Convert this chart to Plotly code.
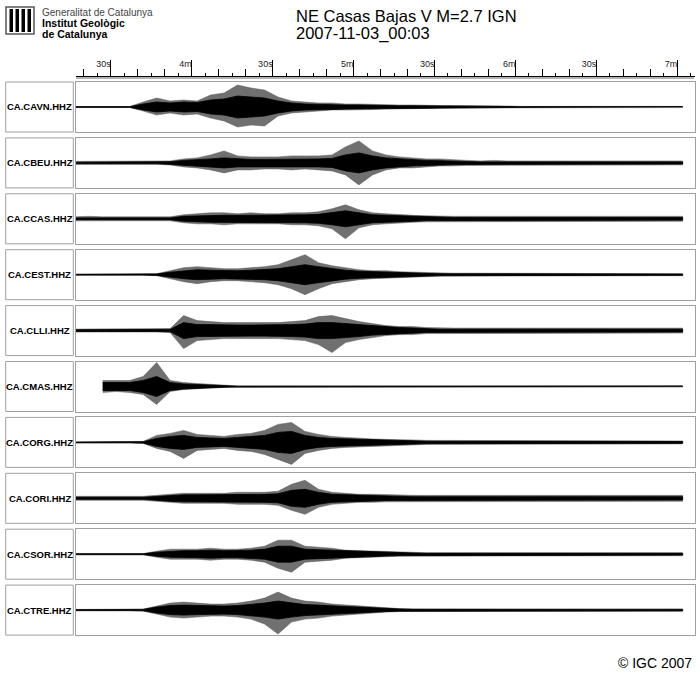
import plotly.graph_objects as go

W, H = 700, 683


def fx(px):
    return px / W


def fy(py):
    return 1 - py / H


# ---------------- data ----------------
TIMES = [197, 202, 207, 212, 217, 222, 227, 232, 237, 242,
         247, 252, 257, 262, 267, 272, 277, 282, 287, 292,
         297, 302, 307, 312, 317, 322, 327, 332, 337, 342,
         347, 352, 357, 362, 367, 372, 377, 382, 387, 392,
         397, 402, 407, 412, 417, 422]

STATIONS = ["CA.CAVN.HHZ", "CA.CBEU.HHZ", "CA.CCAS.HHZ", "CA.CEST.HHZ", "CA.CLLI.HHZ",
            "CA.CMAS.HHZ", "CA.CORG.HHZ", "CA.CORI.HHZ", "CA.CSOR.HHZ", "CA.CTRE.HHZ"]

# peak envelopes (upper / lower) and dense-core half widths, per station
CAVN_UP = [0.5, 0.5, 0.5, 0.5, 0.5, 5, 9, 6, 7, 6,
           12, 14, 22, 19, 17, 10, 6, 5, 4, 4,
           3, 3, 2.5, 2.5, 2, 2, 1.5, 1.5, 1.5, 1.5,
           1, 1, 1, 0.6, 0.6, 0.6, 0.6, 1.2, 0.6, 0.6,
           0.6, 0.6, 0.6, 1.0, 0.6, 0.6]
CAVN_DN = [0.5, 0.5, 0.5, 0.5, 0.5, 4, 8, 6, 8, 7,
           11, 14, 20, 18, 19, 9, 6, 5, 4, 3,
           3, 3, 2.5, 2, 2, 1.5, 1.5, 1, 1, 1,
           1, 1, 1, 0.6, 0.6, 0.6, 0.6, 0.6, 0.6, 0.6,
           0.6, 0.6, 0.6, 0.6, 0.6, 0.6]
CAVN_CORE = [0.35, 0.35, 0.35, 0.35, 0.35, 3, 5, 4, 5, 4.5,
             7, 8, 11, 10, 9, 6, 4, 3, 2.5, 2.5,
             2, 2, 1.5, 1.5, 1.2, 1.2, 1, 1, 0.8, 0.8,
             0.6, 0.6, 0.5, 0.35, 0.35, 0.35, 0.35, 0.35, 0.35, 0.35,
             0.35, 0.35, 0.35, 0.35, 0.35, 0.35]

CBEU_UP = [1.5, 1.5, 2, 1.5, 1.5, 2, 1.5, 2, 4, 5,
           8, 12, 7, 6, 6, 6, 7, 7, 7, 8,
           16, 22, 12, 8, 6, 5, 4, 4, 3, 2.5,
           2, 2.5, 2, 2, 2.5, 2, 2, 2.5, 2, 2,
           2.5, 2, 2, 2.5, 2.5, 2]
CBEU_DN = [1.5, 1.5, 1.5, 2, 1.5, 1.5, 1.5, 2, 4, 5,
           7, 10, 7, 7, 6, 6, 7, 6, 7, 8,
           12, 22, 12, 7, 5, 5, 4, 3, 3, 2.5,
           2, 2, 2.5, 2, 2, 2, 2.5, 2, 2, 2,
           2, 2.5, 2, 2, 2, 2]
CBEU_CORE = [0.7, 0.7, 0.7, 0.7, 0.7, 0.7, 0.7, 1.2, 2.5, 3,
             4, 5, 4, 3.5, 3.5, 3.5, 4, 4, 4, 4.5,
             8, 10, 7, 5, 4, 3, 2.5, 2.2, 1.6, 1.3,
             1, 1, 1, 1, 1, 1, 1, 1, 1, 1,
             1, 1, 1, 1, 1, 1]

CCAS_UP = [2, 2.5, 2, 2, 2.5, 2, 2, 2, 4, 5,
           6, 6, 5, 6, 5, 5, 6, 6, 7, 10,
           14, 9, 6, 5, 4, 3.5, 3, 2.5, 2.5, 2.5,
           2.5, 2.5, 3, 2.5, 2.5, 2.5, 3, 2.5, 2.5, 2.5,
           2.5, 3, 2.5, 2.5, 3, 2.5]
CCAS_DN = [2, 2, 2, 2.5, 2, 2, 2, 2, 4, 5,
           5, 6, 5, 5, 5, 5, 6, 6, 7, 10,
           20, 9, 6, 5, 4, 3.5, 3, 2.5, 2.5, 2.5,
           2.5, 2.5, 2.5, 2.5, 3, 2.5, 2.5, 2.5, 2.5, 3,
           2.5, 2.5, 2.5, 2.5, 2.5, 2.5]
CCAS_CORE = [0.9, 0.9, 0.9, 0.9, 0.9, 0.9, 0.9, 0.9, 2.5, 3,
             3.5, 3.5, 3.5, 3.5, 3.5, 3.5, 4, 4, 4.5, 6,
             8, 6, 4, 3.5, 3, 2.5, 1.8, 1.3, 1.3, 1.3,
             1.3, 1.3, 1.3, 1.3, 1.3, 1.3, 1.3, 1.3, 1.3, 1.3,
             1.3, 1.3, 1.3, 1.3, 1.3, 1.3]

CEST_UP = [0.5, 0.5, 0.5, 0.5, 0.5, 0.5, 1, 4, 7, 8,
           7, 6, 6, 7, 8, 10, 15, 20, 12, 9,
           7, 5, 4, 4, 3, 2.5, 2, 1.5, 1.5, 1.5,
           1.5, 1.5, 1.5, 1, 1, 1, 1, 1, 1, 1,
           1, 1, 1, 1, 1, 1]
CEST_DN = [0.5, 0.5, 0.5, 0.5, 0.5, 0.5, 1, 4, 7, 9,
           7, 6, 6, 7, 8, 10, 14, 20, 14, 9,
           7, 5, 4, 3, 3, 2.5, 2, 1.5, 1.5, 1.5,
           1.5, 1.5, 1.5, 1, 1, 1, 1, 1, 1, 1,
           1, 1, 1, 1, 1, 1]
CEST_CORE = [0.35, 0.35, 0.35, 0.35, 0.35, 0.35, 0.7, 2.5, 4, 5,
             4.5, 4, 4, 4.5, 5, 6, 8, 10, 8, 6,
             4.5, 3.5, 3, 2.5, 2, 1.8, 1.4, 0.9, 0.9, 0.9,
             0.9, 0.9, 0.9, 0.6, 0.6, 0.6, 0.6, 0.6, 0.6, 0.6,
             0.6, 0.6, 0.6, 0.6, 0.6, 0.6]

CLLI_UP = [1.5, 1.5, 1.5, 1.5, 1.5, 1.5, 1.5, 2, 15, 10,
           9, 8, 8, 8, 8, 8, 9, 10, 14, 15,
           12, 9, 7, 5, 4, 4, 3, 2.5, 2.5, 2.5,
           2.5, 2.5, 2.5, 2.5, 2.5, 2.5, 2.5, 2.5, 2.5, 2.5,
           2.5, 2.5, 2.5, 2.5, 2.5, 2.5]
CLLI_DN = [1.5, 1.5, 1.5, 1.5, 1.5, 1.5, 1.5, 2, 18, 10,
           9, 8, 8, 8, 8, 8, 9, 10, 14, 22,
           12, 9, 7, 5, 4, 4, 3, 2.5, 2.5, 2.5,
           2.5, 2.5, 2.5, 2.5, 2.5, 2.5, 2.5, 2.5, 2.5, 2.5,
           2.5, 2.5, 2.5, 2.5, 2.5, 2.5]
CLLI_CORE = [0.8, 0.8, 0.8, 0.8, 0.8, 0.8, 0.8, 1.2, 8, 6,
             6, 5.5, 5.5, 5.5, 5.5, 5.5, 6, 6.5, 8, 8,
             7, 6, 4.5, 3.5, 3, 2.6, 1.8, 1.3, 1.3, 1.3,
             1.3, 1.3, 1.3, 1.3, 1.3, 1.3, 1.3, 1.3, 1.3, 1.3,
             1.3, 1.3, 1.3, 1.3, 1.3, 1.3]

CMAS_UP = [None, None, 6, 6, 6, 10, 24, 6, 4, 3,
           2, 1, 0.6, 0.6, 0.6, 0.6, 0.6, 0.6, 0.6, 0.6,
           0.6, 0.6, 0.6, 0.6, 0.6, 0.6, 0.6, 0.6, 0.6, 0.6,
           0.6, 0.6, 0.6, 0.6, 0.6, 0.6, 0.6, 0.6, 0.6, 0.6,
           0.6, 0.6, 0.6, 0.6, 0.6, 0.6]
CMAS_DN = [None, None, 6, 5, 6, 8, 18, 5, 3, 2,
           1.5, 1, 0.6, 0.6, 0.6, 0.6, 0.6, 0.6, 0.6, 0.6,
           0.6, 0.6, 0.6, 0.6, 0.6, 0.6, 0.6, 0.6, 0.6, 0.6,
           0.6, 0.6, 0.6, 0.6, 0.6, 0.6, 0.6, 0.6, 0.6, 0.6,
           0.6, 0.6, 0.6, 0.6, 0.6, 0.6]
CMAS_CORE = [None, None, 4, 4, 4, 6, 10, 4, 2.5, 2,
             1.2, 0.7, 0.35, 0.35, 0.35, 0.35, 0.35, 0.35, 0.35, 0.35,
             0.35, 0.35, 0.35, 0.35, 0.35, 0.35, 0.35, 0.35, 0.35, 0.35,
             0.35, 0.35, 0.35, 0.35, 0.35, 0.35, 0.35, 0.35, 0.35, 0.35,
             0.35, 0.35, 0.35, 0.35, 0.35, 0.35]

CORG_UP = [0.5, 0.5, 0.5, 0.5, 0.5, 1, 7, 9, 12, 8,
           7, 6, 8, 9, 12, 18, 20, 11, 8, 6,
           5, 4, 3.5, 3, 3, 2.5, 2, 2, 2, 2,
           2, 2, 2, 2, 1.5, 1.5, 1.5, 1.5, 1.5, 1.5,
           1.5, 1.5, 1.5, 1.5, 1.5, 1.5]
CORG_DN = [0.5, 0.5, 0.5, 0.5, 0.5, 1, 6, 9, 16, 8,
           7, 6, 8, 9, 12, 17, 22, 11, 8, 6,
           5, 4, 3.5, 3, 3, 2.5, 2, 2, 2, 2,
           2, 2, 2, 2, 1.5, 1.5, 1.5, 1.5, 1.5, 1.5,
           1.5, 1.5, 1.5, 1.5, 1.5, 1.5]
CORG_CORE = [0.35, 0.35, 0.35, 0.35, 0.35, 0.7, 4, 6, 7, 5,
             4.5, 4, 5, 6, 7, 10, 11, 7, 5, 4,
             3.5, 3, 2.5, 2.2, 2, 1.7, 1.2, 1.1, 1.1, 1.1,
             1.1, 1.1, 1.1, 1.1, 0.9, 0.9, 0.9, 0.9, 0.9, 0.9,
             0.9, 0.9, 0.9, 0.9, 0.9, 0.9]

CORI_UP = [2, 2, 2, 2, 2, 2, 3, 4, 5, 5,
           5, 5, 6, 6, 6, 7, 14, 18, 9, 6,
           5, 4, 4, 3.5, 3, 3, 3, 3, 3, 3,
           3, 3, 3, 3, 3, 3, 3, 3, 3, 3,
           3, 3, 3, 3, 3, 3]
CORI_DN = [2, 2, 2, 2, 2, 2, 3, 4, 5, 5,
           5, 5, 6, 6, 6, 7, 12, 16, 9, 6,
           5, 4, 4, 3.5, 3, 3, 3, 3, 3, 3,
           3, 3, 3, 3, 3, 3, 3, 3, 3, 3,
           3, 3, 3, 3, 3, 3]
CORI_CORE = [1.0, 1.0, 1.0, 1.0, 1.0, 1.0, 1.8, 3, 3.5, 3.5,
             3.5, 3.5, 4, 4, 4, 4.5, 8, 9, 6, 4,
             3.5, 3, 2.8, 2.2, 1.8, 1.6, 1.6, 1.6, 1.6, 1.6,
             1.6, 1.6, 1.6, 1.6, 1.6, 1.6, 1.6, 1.6, 1.6, 1.6,
             1.6, 1.6, 1.6, 1.6, 1.6, 1.6]

CSOR_UP = [0.6, 0.6, 0.6, 0.6, 0.6, 0.6, 3, 5, 5, 5,
           6, 5, 5, 6, 8, 14, 14, 8, 7, 6,
           4, 3.5, 3, 2.5, 2, 2, 1.5, 1.5, 1.5, 1.5,
           1.5, 1.5, 1.5, 1.5, 1.5, 1.5, 1.5, 1.5, 1.5, 1.5,
           1.5, 1.5, 1.5, 1.5, 1.5, 1.5]
CSOR_DN = [0.6, 0.6, 0.6, 0.6, 0.6, 0.6, 3, 5, 5, 5,
           6, 5, 5, 6, 8, 14, 18, 8, 7, 6,
           4, 3.5, 3, 2.5, 2, 2, 1.5, 1.5, 1.5, 1.5,
           1.5, 1.5, 1.5, 1.5, 1.5, 1.5, 1.5, 1.5, 1.5, 1.5,
           1.5, 1.5, 1.5, 1.5, 1.5, 1.5]
CSOR_CORE = [0.4, 0.4, 0.4, 0.4, 0.4, 0.4, 2, 3, 3.5, 3.5,
             4, 3.5, 3.5, 4, 5, 8, 8, 5, 4.5, 4,
             3, 2.5, 2.2, 1.8, 1.4, 1.2, 0.9, 0.9, 0.9, 0.9,
             0.9, 0.9, 0.9, 0.9, 0.9, 0.9, 0.9, 0.9, 0.9, 0.9,
             0.9, 0.9, 0.9, 0.9, 0.9, 0.9]

CTRE_UP = [0.7, 0.7, 0.7, 0.7, 0.7, 1, 4, 7, 8, 7,
           6, 6, 7, 9, 12, 18, 12, 9, 8, 6,
           5, 4, 3, 2, 1.5, 1.2, 1.2, 1.2, 1.2, 1.2,
           1.2, 1.2, 1.2, 1.2, 1.2, 1.2, 1.2, 1.2, 1.2, 1.2,
           1.2, 1.2, 1.2, 1.2, 1.2, 1.2]
CTRE_DN = [0.7, 0.7, 0.7, 0.7, 0.7, 1, 4, 7, 8, 7,
           6, 6, 7, 9, 14, 24, 12, 9, 8, 6,
           5, 4, 3, 2, 1.5, 1.2, 1.2, 1.2, 1.2, 1.2,
           1.2, 1.2, 1.2, 1.2, 1.2, 1.2, 1.2, 1.2, 1.2, 1.2,
           1.2, 1.2, 1.2, 1.2, 1.2, 1.2]
CTRE_CORE = [0.45, 0.45, 0.45, 0.45, 0.45, 0.7, 3, 4.5, 5, 4.5,
             4, 4, 4.5, 5.5, 7, 9, 7, 5.5, 5, 4,
             3.5, 3, 2.2, 1.5, 1.1, 0.8, 0.7, 0.7, 0.7, 0.7,
             0.7, 0.7, 0.7, 0.7, 0.7, 0.7, 0.7, 0.7, 0.7, 0.7,
             0.7, 0.7, 0.7, 0.7, 0.7, 0.7]

UPS = [CAVN_UP, CBEU_UP, CCAS_UP, CEST_UP, CLLI_UP, CMAS_UP, CORG_UP, CORI_UP, CSOR_UP, CTRE_UP]
DNS = [CAVN_DN, CBEU_DN, CCAS_DN, CEST_DN, CLLI_DN, CMAS_DN, CORG_DN, CORI_DN, CSOR_DN, CTRE_DN]
CORES = [CAVN_CORE, CBEU_CORE, CCAS_CORE, CEST_CORE, CLLI_CORE,
         CMAS_CORE, CORG_CORE, CORI_CORE, CSOR_CORE, CTRE_CORE]

MAJOR_TICKS = [210, 240, 270, 300, 330, 360, 390, 420]
MAJOR_LABELS = ["30s", "4m", "30s", "5m", "30s", "6m", "30s", "7m"]

TITLE_1 = "NE Casas Bajas V M=2.7 IGN"
TITLE_2 = "2007-11-03_00:03"

# ---------------- layout geometry ----------------
T_MIN, T_MAX = 197.1, 426.4
X_LEFT, X_RIGHT = 76.0, 694.5
ROW_TOP0, ROW_STEP, ROW_H = 82.0, 55.9, 50.0
AMP = 25
FONT = "Liberation Sans, Arial, sans-serif"
BOX_COL = "#a0a0a0"

fig = go.Figure()
layout = dict(
    width=W, height=H, margin=dict(l=0, r=0, t=0, b=0),
    paper_bgcolor="white", plot_bgcolor="white", showlegend=False,
)
shapes = []
annotations = []

for i, name in enumerate(STATIONS):
    n = "" if i == 0 else str(i + 1)
    top = ROW_TOP0 + i * ROW_STEP
    bot = top + ROW_H
    pts = [(t, u, d, c) for t, u, d, c in zip(TIMES, UPS[i], DNS[i], CORES[i]) if u is not None]
    xs = [p[0] for p in pts]
    # peak envelope (sparse spikes) -> grey band
    fig.add_trace(go.Scatter(
        x=xs + xs[::-1], y=[p[1] for p in pts] + [-p[2] for p in pts][::-1],
        mode="lines", fill="toself", fillcolor="#707070",
        line=dict(color="#5a5a5a", width=0.5),
        xaxis="x" + n, yaxis="y" + n, hoverinfo="skip"))
    # dense core -> black band
    fig.add_trace(go.Scatter(
        x=xs + xs[::-1], y=[p[3] for p in pts] + [-p[3] for p in pts][::-1],
        mode="lines", fill="toself", fillcolor="black",
        line=dict(color="black", width=0.8),
        xaxis="x" + n, yaxis="y" + n, hoverinfo="skip"))
    layout["xaxis" + n] = dict(
        domain=[fx(X_LEFT), fx(X_RIGHT)], range=[T_MIN, T_MAX], anchor="y" + n,
        showline=True, mirror=True, linecolor=BOX_COL, linewidth=1,
        showticklabels=False, ticks="", showgrid=False, zeroline=False, fixedrange=True)
    layout["yaxis" + n] = dict(
        domain=[fy(bot), fy(top)], range=[-AMP, AMP], anchor="x" + n,
        showline=True, mirror=True, linecolor=BOX_COL, linewidth=1,
        showticklabels=False, ticks="", showgrid=False, zeroline=False, fixedrange=True)
    # label box
    shapes.append(dict(type="rect", xref="paper", yref="paper",
                       x0=fx(5.7), x1=fx(73.3), y0=fy(bot), y1=fy(top),
                       line=dict(color=BOX_COL, width=1), fillcolor="rgba(0,0,0,0)"))
    annotations.append(dict(x=fx(39.5), y=fy(top + ROW_H / 2), xref="paper", yref="paper",
                            text=name, showarrow=False, xanchor="center", yanchor="middle",
                            font=dict(family=FONT, size=9.5, color="black", weight="bold")))

# top time axis (baseline + major/minor ticks)
AX_Y = 75.5
layout["xaxis11"] = dict(
    overlaying="x", anchor="free", position=fy(AX_Y), side="top", range=[T_MIN, T_MAX],
    showline=True, linecolor="black", linewidth=1, ticks="outside", tickmode="array",
    tickvals=MAJOR_TICKS, ticklen=16, tickcolor="black", tickwidth=1,
    showticklabels=False, showgrid=False, zeroline=False, fixedrange=True,
    minor=dict(ticks="outside", tickmode="linear", tick0=0, dtick=10, ticklen=7,
               tickcolor="black", tickwidth=1, showgrid=False))
layout["xaxis12"] = dict(
    overlaying="x", anchor="free", position=fy(AX_Y), side="top", range=[T_MIN, T_MAX],
    showline=False, ticks="outside", tickmode="linear", tick0=0, dtick=5, ticklen=3,
    tickcolor="black", tickwidth=1, showticklabels=False, showgrid=False,
    zeroline=False, fixedrange=True)
layout["xaxis13"] = dict(
    overlaying="x", anchor="free", position=fy(68.5), side="top", range=[T_MIN, T_MAX],
    showline=False, ticks="", tickmode="array", tickvals=MAJOR_TICKS, ticktext=MAJOR_LABELS,
    ticklabelposition="outside left", tickfont=dict(family=FONT, size=9, color="#222"),
    showgrid=False, zeroline=False, fixedrange=True)
for ax in ("x11", "x12", "x13"):
    fig.add_trace(go.Scatter(x=[T_MIN], y=[0], mode="markers", marker=dict(opacity=0),
                             xaxis=ax, yaxis="y", hoverinfo="skip"))

# second line under the axis
shapes.append(dict(type="line", xref="paper", yref="paper", x0=fx(X_LEFT), x1=fx(694),
                   y0=fy(78), y1=fy(78), line=dict(color="#666", width=1)))

# logo
shapes.append(dict(type="rect", xref="paper", yref="paper", x0=fx(6), x1=fx(34),
                   y0=fy(34), y1=fy(7), line=dict(color="#555", width=1.5),
                   fillcolor="white"))
for bx in (9.5, 15.5, 21.5, 27.5):
    shapes.append(dict(type="rect", xref="paper", yref="paper", x0=fx(bx), x1=fx(bx + 3.5),
                       y0=fy(32), y1=fy(9), line=dict(width=0), fillcolor="black"))

annotations += [
    dict(x=fx(40.5), y=fy(12), text="Generalitat de Catalunya", font=dict(family=FONT, size=10, color="#444")),
    dict(x=fx(40.5), y=fy(23), text="Institut Geològic", font=dict(family=FONT, size=10.5, color="black", weight="bold")),
    dict(x=fx(40.5), y=fy(34), text="de Catalunya", font=dict(family=FONT, size=10.5, color="black", weight="bold")),
    dict(x=fx(295), y=fy(15.5), text=TITLE_1, font=dict(family=FONT, size=16.5, color="black")),
    dict(x=fx(295), y=fy(33), text=TITLE_2, font=dict(family=FONT, size=16.5, color="black")),
]
for a in annotations[-5:]:
    a.update(xref="paper", yref="paper", xanchor="left", yanchor="middle", showarrow=False,
             borderpad=0)

annotations.append(dict(x=fx(694), y=fy(663), xref="paper", yref="paper", text="© IGC 2007",
                        showarrow=False, xanchor="right", yanchor="middle",
                        font=dict(family=FONT, size=14, color="black")))

layout["shapes"] = shapes
layout["annotations"] = annotations
fig.update_layout(**layout)
fig.write_html("out.html", config={"displayModeBar": False},
               post_script="document.body.style.margin='0';document.body.style.overflow='hidden';")
